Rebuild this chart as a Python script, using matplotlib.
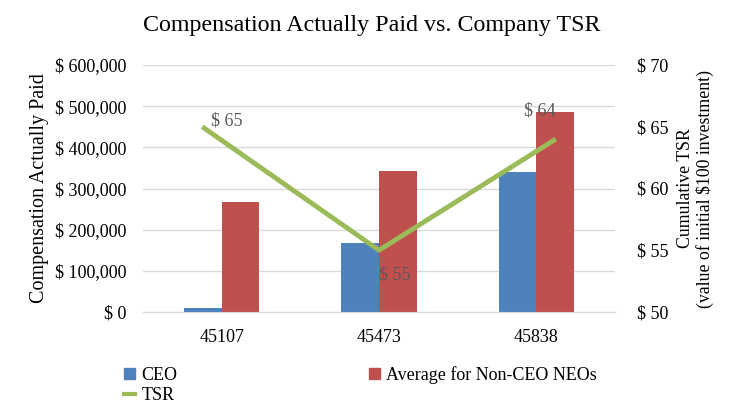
import numpy as np
import matplotlib
matplotlib.use('Agg')
import matplotlib.pyplot as plt
from matplotlib.lines import Line2D
from matplotlib.patches import Patch
from matplotlib.ticker import FuncFormatter

plt.rcParams['font.family'] = ['Liberation Serif', 'DejaVu Serif']

years = ['45107', '45473', '45838']
ceo = [10000, 167000, 340000]
neo = [267000, 342000, 485000]
tsr = [65, 55, 64]

C_CEO = '#4f81bd'
C_NEO = '#c0504d'
C_TSR = '#9bbb59'
GRID = '#d9d9d9'
TXT = '#000000'

fig = plt.figure(figsize=(7.43, 4.20), dpi=100)
ax = fig.add_axes([143/743, 1 - 312/420, 472/743, 247/420])

x = np.arange(len(years))
w = 0.24
ax.bar(x - w/2, ceo, w, color=C_CEO, zorder=2)
ax.bar(x + w/2, neo, w, color=C_NEO, zorder=2)
ax.set_xlim(-0.5, 2.5)
ax.set_ylim(0, 600000)
ax.set_yticks(np.arange(0, 600001, 100000))
ax.yaxis.set_major_formatter(FuncFormatter(lambda v, p: f'$ {v:,.0f}'))
ax.set_xticks(x)
ax.set_xticklabels(years)
ax.grid(axis='y', color=GRID, lw=1, zorder=0)
for s in ['top', 'left', 'right']:
    ax.spines[s].set_visible(False)
ax.spines['bottom'].set_color(GRID)
ax.tick_params(axis='both', length=0, labelsize=13, colors=TXT)
ax.tick_params(axis='y', pad=12)
ax.tick_params(axis='x', pad=12)
ax.set_ylabel('Compensation Actually Paid', fontsize=14.5, labelpad=4)

# TSR on secondary axes (its own category spacing, like the source)
ax2 = fig.add_axes(ax.get_position(), frameon=False)
ax2.plot(x, tsr, color=C_TSR, lw=3.5, solid_capstyle='butt', zorder=3)
ax2.set_xlim(-0.335, 2.335)
ax2.set_ylim(50, 70)
ax2.set_xticks([])
ax2.yaxis.tick_right()
ax2.yaxis.set_label_position('right')
ax2.set_yticks(np.arange(50, 71, 5))
ax2.yaxis.set_major_formatter(FuncFormatter(lambda v, p: f'$ {v:.0f}'))
ax2.tick_params(axis='y', length=0, labelsize=13, colors=TXT, pad=16)
ax2.set_ylabel('Cumulative TSR\n(value of initial $100 investment)', fontsize=12.8,
               rotation=90, labelpad=6, linespacing=1.1)

offsets = [(6, -2, 'left', 'bottom'), (0, -12, 'left', 'top'), (0, 14, 'right', 'bottom')]
for xi, v, (dx, dy, ha, va) in zip(x, tsr, offsets):
    ax2.annotate(f'$ {v}', (xi, v), xytext=(dx, dy), textcoords='offset points',
                 ha=ha, va=va, fontsize=13, color='#595959')

fig.text(0.5, 1 - 25/420, 'Compensation Actually Paid vs. Company TSR',
         ha='center', va='center', fontsize=17.3)

handles = [Patch(color=C_CEO), Line2D([], [], color=C_TSR, lw=3),
           Patch(color=C_NEO)]
labels = ['CEO', 'TSR', 'Average for Non-CEO NEOs']
fig.legend(handles, labels, ncol=2, loc='upper left', bbox_to_anchor=(108/743, 1 - 350/420),
           frameon=False, fontsize=13, handlelength=0.6, handleheight=0.6,
           handletextpad=0.35, columnspacing=10.6, labelspacing=0.15)

fig.savefig('out.png', dpi=100)
